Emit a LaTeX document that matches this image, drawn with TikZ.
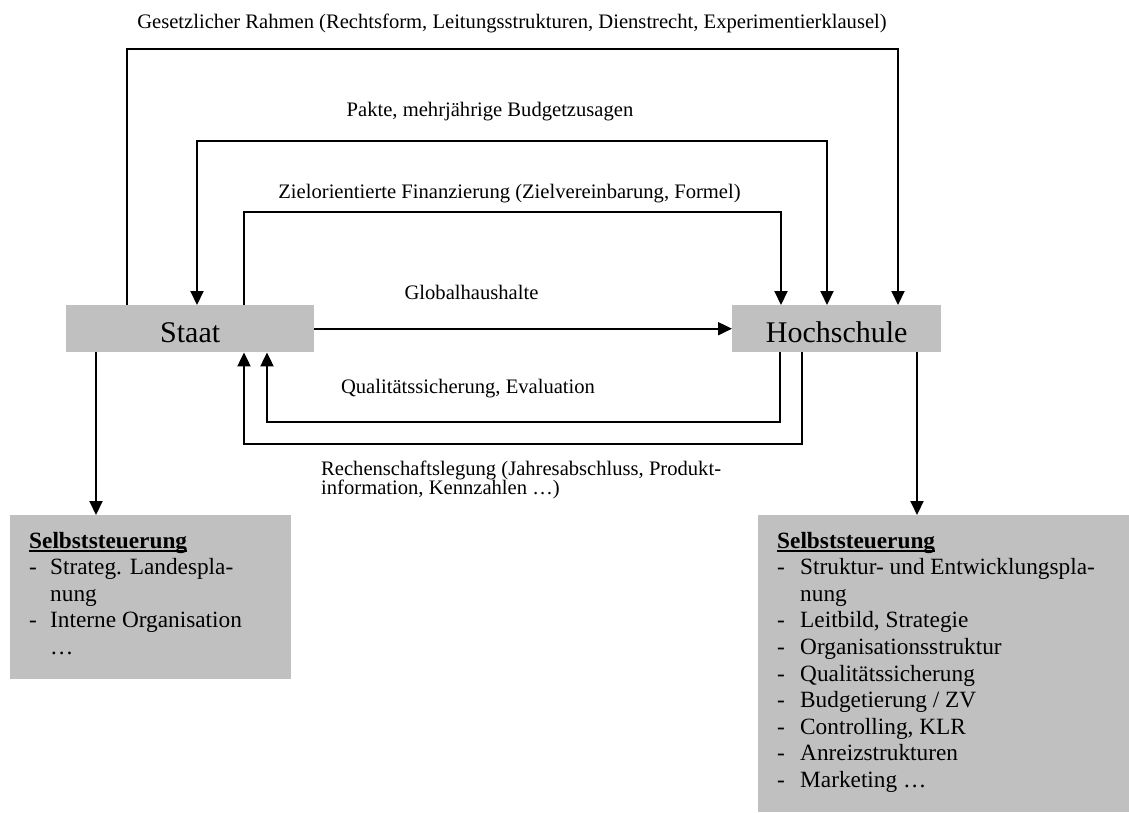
\documentclass[tikz,border=0pt]{standalone}
\usepackage{fontspec}
\setmainfont{Liberation Serif}
\usetikzlibrary{arrows.meta}
\definecolor{boxgray}{RGB}{192,192,192}
% bold heading with a Word-like underline just below the baseline
\newcommand\ulbold[1]{\setbox0=\hbox{\bfseries #1}\rlap{\vrule height -2pt depth 3.6pt width \wd0}\box0}
\newcommand\listdash[1]{\makebox[#1][l]{-}}
\begin{document}
\begin{tikzpicture}[x=1pt,y=-1pt,
  conn/.style={line width=2pt, draw=black},
  tip/.style={-{Triangle[width=13pt,length=14pt]}},
  tipboth/.style={{Triangle[width=13pt,length=14pt]}-{Triangle[width=13pt,length=14pt]}},
  actor/.style={fill=boxgray, inner sep=0pt, minimum height=47pt,
    text height=27pt, text depth=0pt, font=\fontsize{30}{36}\selectfont, anchor=north west},
  flowlabel/.style={font=\fontsize{20.6}{24}\selectfont, inner sep=0pt, anchor=base},
  listbox/.style={fill=boxgray, inner sep=0pt, anchor=north west},
  listtext/.style={font=\fontsize{23.3}{26.6}\selectfont, inner sep=0pt, anchor=base west}]
\useasboundingbox (0,0) rectangle (1129,812);

% actors
\node[actor, minimum width=248pt] (staat) at (66,305) {Staat};
\node[actor, minimum width=209pt] (hs) at (732,305) {Hochschule};

% self-steering boxes
\node[listbox, minimum width=281pt, minimum height=164pt] (sl) at (10,515) {};
\node[listbox, minimum width=371pt, minimum height=297pt] (sr) at (758,515) {};

\node[listtext] (tl) at (29,548) {\vtop{\baselineskip=26.6pt\lineskiplimit=-30pt
  \hbox{\ulbold{Selbststeuerung}}
  \hbox{\listdash{21pt}Strateg. Landespla-}
  \hbox{\hskip21pt nung}
  \hbox{\listdash{21pt}Interne Organisation}
  \hbox{\hskip21pt …}}};

\node[listtext] (tr) at (777,548) {\vtop{\baselineskip=26.6pt\lineskiplimit=-30pt
  \hbox{\ulbold{Selbststeuerung}}
  \hbox{\listdash{23pt}Struktur- und Entwicklungspla-}
  \hbox{\hskip23pt nung}
  \hbox{\listdash{23pt}Leitbild, Strategie}
  \hbox{\listdash{23pt}Organisationsstruktur}
  \hbox{\listdash{23pt}Qualitätssicherung}
  \hbox{\listdash{23pt}Budgetierung / ZV}
  \hbox{\listdash{23pt}Controlling, KLR}
  \hbox{\listdash{23pt}Anreizstrukturen}
  \hbox{\listdash{23pt}Marketing …}}};

% corner points of the routed connectors
\coordinate (gA) at (127,49);  \coordinate (gB) at (898,49);
\coordinate (pA) at (197,141); \coordinate (pB) at (827,141);
\coordinate (zA) at (244,212); \coordinate (zB) at (781,212);
\coordinate (qA) at (267,422); \coordinate (qB) at (780,422);
\coordinate (rA) at (244,444); \coordinate (rB) at (802,444);
\coordinate (sA) at (96,0);    \coordinate (sB) at (917,0);

% connectors
\draw[conn, tip] (staat.north -| gA) -- (gA) -- (gB) -- (hs.north -| gB);
\draw[conn, tipboth] (staat.north -| pA) -- (pA) -- (pB) -- (hs.north -| pB);
\draw[conn, tip] (staat.north -| zA) -- (zA) -- (zB) -- (hs.north -| zB);
\draw[conn, tip] (staat.east) -- (hs.west);
\draw[conn, tip] (hs.south -| qB) -- (qB) -- (qA) -- (staat.south -| qA);
\draw[conn, tip] (hs.south -| rB) -- (rB) -- (rA) -- (staat.south -| rA);
\draw[conn, tip] (staat.south -| sA) -- (sl.north -| sA);
\draw[conn, tip] (hs.south -| sB) -- (sr.north -| sB);

% connector labels
\node[flowlabel] (lgesetz) at (512,28) {Gesetzlicher Rahmen (Rechtsform, Leitungsstrukturen, Dienstrecht, Experimentierklausel)};
\node[flowlabel] (lpakte) at (490,116) {Pakte, mehrjährige Budgetzusagen};
\node[flowlabel] (lziel) at (509.5,198) {Zielorientierte Finanzierung (Zielvereinbarung, Formel)};
\node[flowlabel] (lglobal) at (471.5,299) {Globalhaushalte};
\node[flowlabel] (lqual) at (468,393) {Qualitätssicherung, Evaluation};
\node[flowlabel, anchor=base west] (lrechen) at (321,475) {\vtop{\baselineskip=19pt\lineskiplimit=-30pt
  \hbox{Rechenschaftslegung (Jahresabschluss, Produkt-}
  \hbox{information, Kennzahlen …)}}};
\end{tikzpicture}
\end{document}
